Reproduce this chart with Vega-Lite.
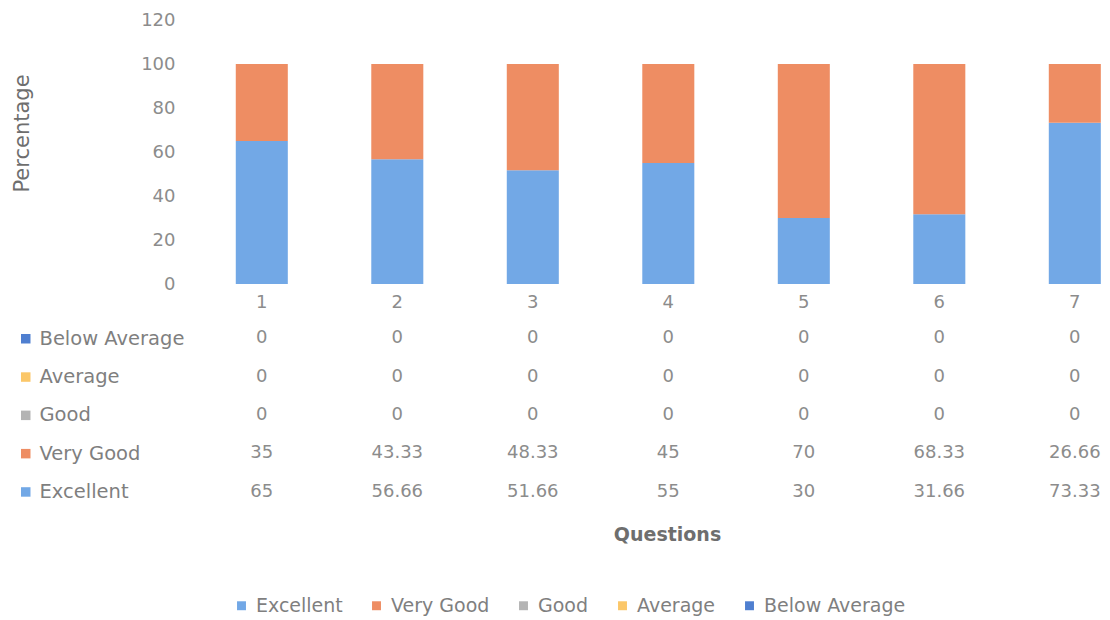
{
  "$schema": "https://vega.github.io/schema/vega-lite/v6.json",
  "padding": {"left": 11, "top": 11, "right": 0, "bottom": 0},
  "background": "white",
  "config": {"view": {"stroke": null}, "font": "DejaVu Sans"},
  "data": {"values": [
    {"q": "1", "cat": "Excellent", "v": 65, "k": 1},
    {"q": "1", "cat": "Very Good", "v": 35, "k": 2},
    {"q": "1", "cat": "Good", "v": 0, "k": 3},
    {"q": "1", "cat": "Average", "v": 0, "k": 4},
    {"q": "1", "cat": "Below Average", "v": 0, "k": 5},
    {"q": "2", "cat": "Excellent", "v": 56.66, "k": 1},
    {"q": "2", "cat": "Very Good", "v": 43.33, "k": 2},
    {"q": "2", "cat": "Good", "v": 0, "k": 3},
    {"q": "2", "cat": "Average", "v": 0, "k": 4},
    {"q": "2", "cat": "Below Average", "v": 0, "k": 5},
    {"q": "3", "cat": "Excellent", "v": 51.66, "k": 1},
    {"q": "3", "cat": "Very Good", "v": 48.33, "k": 2},
    {"q": "3", "cat": "Good", "v": 0, "k": 3},
    {"q": "3", "cat": "Average", "v": 0, "k": 4},
    {"q": "3", "cat": "Below Average", "v": 0, "k": 5},
    {"q": "4", "cat": "Excellent", "v": 55, "k": 1},
    {"q": "4", "cat": "Very Good", "v": 45, "k": 2},
    {"q": "4", "cat": "Good", "v": 0, "k": 3},
    {"q": "4", "cat": "Average", "v": 0, "k": 4},
    {"q": "4", "cat": "Below Average", "v": 0, "k": 5},
    {"q": "5", "cat": "Excellent", "v": 30, "k": 1},
    {"q": "5", "cat": "Very Good", "v": 70, "k": 2},
    {"q": "5", "cat": "Good", "v": 0, "k": 3},
    {"q": "5", "cat": "Average", "v": 0, "k": 4},
    {"q": "5", "cat": "Below Average", "v": 0, "k": 5},
    {"q": "6", "cat": "Excellent", "v": 31.66, "k": 1},
    {"q": "6", "cat": "Very Good", "v": 68.33, "k": 2},
    {"q": "6", "cat": "Good", "v": 0, "k": 3},
    {"q": "6", "cat": "Average", "v": 0, "k": 4},
    {"q": "6", "cat": "Below Average", "v": 0, "k": 5},
    {"q": "7", "cat": "Excellent", "v": 73.33, "k": 1},
    {"q": "7", "cat": "Very Good", "v": 26.66, "k": 2},
    {"q": "7", "cat": "Good", "v": 0, "k": 3},
    {"q": "7", "cat": "Average", "v": 0, "k": 4},
    {"q": "7", "cat": "Below Average", "v": 0, "k": 5}
  ]},
  "bounds": "flush",
  "spacing": 35,
  "resolve": {"scale": {"color": "independent"}, "legend": {"color": "independent"}},
  "vconcat": [
    {
      "width": 916,
      "height": 264,
      "mark": {"type": "bar"},
      "encoding": {
        "x": {"field": "q", "type": "nominal",
          "scale": {"type": "band", "paddingInner": 0.616, "paddingOuter": 0.188, "align": 0.82},
          "axis": {"title": null, "labelAngle": 0, "domain": false, "ticks": false, "tickSize": 0, "labelPadding": 9, "labelFontSize": 18, "labelColor": "#8c8c8c"}},
        "y": {"field": "v", "type": "quantitative", "stack": "zero",
          "scale": {"domain": [0, 120], "nice": false},
          "axis": {"values": [0, 20, 40, 60, 80, 100, 120], "grid": false, "domain": false, "ticks": false, "tickSize": 0, "labelPadding": 19, "labelFontSize": 18, "labelColor": "#8c8c8c", "title": "Percentage", "titleFontSize": 21, "titleFontWeight": "normal", "titleColor": "#6e6e6e", "titlePadding": 108, "titleY": 113}},
        "color": {"field": "cat", "type": "nominal",
          "scale": {"domain": ["Excellent", "Very Good", "Good", "Average", "Below Average"], "range": ["#72a8e6", "#ee8d63", "#b4b4b4", "#fbc769", "#4f7fd0"]},
          "legend": {"orient": "none", "direction": "horizontal", "legendX": 38, "legendY": 576, "title": null, "symbolType": "square", "symbolSize": 80, "labelFontSize": 19, "labelColor": "#7f7f7f", "columnPadding": 24, "labelOffset": 5}},
        "order": {"field": "k", "type": "quantitative"}
      }
    },
    {
      "width": 916,
      "height": 192,
      "encoding": {
        "x": {"field": "q", "type": "nominal",
          "scale": {"type": "band", "paddingInner": 0.616, "paddingOuter": 0.188, "align": 0.82},
          "axis": {"labels": false, "ticks": false, "domain": false, "title": "Questions", "titleFontSize": 19, "titleFontWeight": "bold", "titleColor": "#6e6e6e", "titlePadding": 14, "titleX": 473}},
        "y": {"field": "cat", "type": "nominal",
          "scale": {"domain": ["Below Average", "Average", "Good", "Very Good", "Excellent"]},
          "axis": null}
      },
      "layer": [
        {
          "mark": {"type": "text", "fontSize": 18, "color": "#8c8c8c"},
          "encoding": {"text": {"field": "v", "type": "quantitative", "format": ".2~f"}}
        },
        {
          "mark": {"type": "point", "shape": "square", "filled": true, "opacity": 0},
          "encoding": {
            "color": {"field": "cat", "type": "nominal",
              "scale": {"domain": ["Below Average", "Average", "Good", "Very Good", "Excellent"], "range": ["#4f7fd0", "#fbc769", "#b4b4b4", "#ee8d63", "#72a8e6"]},
              "legend": {"orient": "none", "direction": "vertical", "legendX": -178, "legendY": 10, "title": null, "symbolType": "square", "symbolSize": 90, "symbolOpacity": 1, "labelFontSize": 19.5, "labelColor": "#7f7f7f", "rowPadding": 17.3, "labelOffset": 4, "labelLimit": 300}}
          }
        }
      ]
    }
  ]
}
